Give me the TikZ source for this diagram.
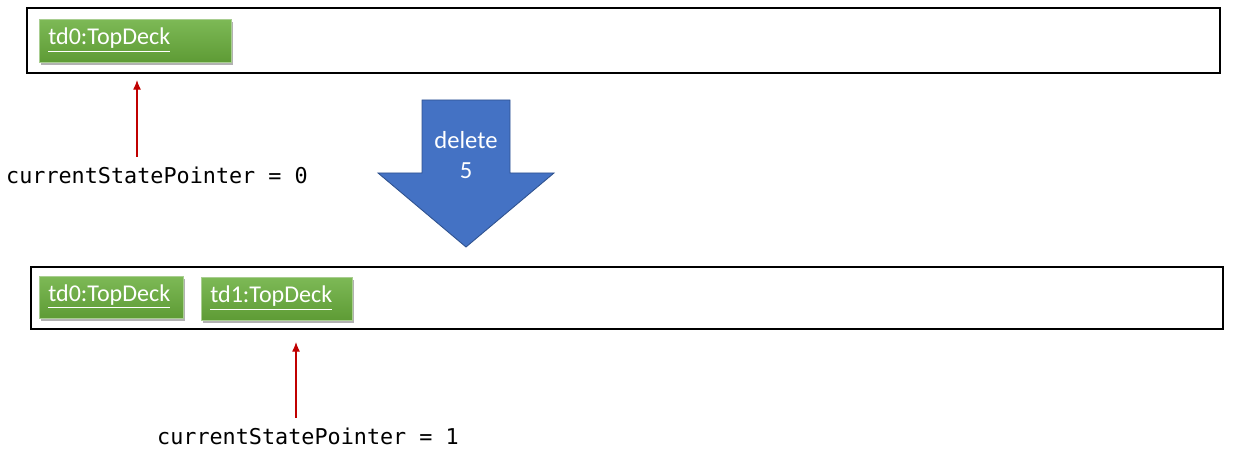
\documentclass[tikz,border=0pt]{standalone}
\usepackage{fontspec}
\setmainfont{Carlito}
\newfontfamily\codefont{DejaVu Sans Mono}
\usetikzlibrary{arrows.meta,shadows}
\definecolor{deckgreen}{HTML}{70AD47}
\definecolor{deckgreenlight}{HTML}{7DB956}
\definecolor{deckgreendark}{HTML}{5E9B35}
\definecolor{opblue}{HTML}{4472C4}
\definecolor{opborder}{HTML}{2F528F}
\definecolor{ptrred}{HTML}{C00000}
\tikzset{
  /tikz/.cd,
  history/.style={draw=black,line width=0.7pt},
  deck/.style={top color=deckgreenlight,bottom color=deckgreendark,draw=deckgreen!60,
    drop shadow={shadow xshift=1.2pt,shadow yshift=-1.4pt,opacity=.5,fill=black!60},
    anchor=north west,inner sep=0pt},
  decklabel/.style={anchor=west,inner sep=0pt,text=white,font=\fontsize{13.7}{15}\selectfont},
  pointer/.style={font=\codefont\fontsize{12.4}{14}\selectfont,inner sep=0pt},
  ptr/.style={draw=ptrred,line width=0.6pt,-{Latex[length=5.5pt,width=4.5pt]}}
}

\begin{document}
\begin{tikzpicture}[x=0.02cm,y=-0.02cm]
      \useasboundingbox (0,0) rectangle (1233,452);

      % state before
      \draw[history] (27,8) rectangle (1220,73);
      \node[deck,minimum width=192*0.02cm,minimum height=43*0.02cm] (tdA) at (39,19) {};
      \node[decklabel] (tdAtext) at ([xshift=9*0.02cm,yshift=0.5pt]tdA.west) {\underline{td0:TopDeck}};
      \coordinate (tipA) at (137,80);
      \node[pointer] (ptrA) at (157,175) {currentStatePointer = 0};
      \draw[ptr] ([yshift=5.5pt]ptrA.north -| tipA) -- (tipA);

      % the command
      \filldraw[fill=opblue,draw=opborder,line width=0.5pt]
        (422,100) -- (510,100) -- (510,173) -- (554,173) -- (466,247) -- (378,173) -- (422,173) -- cycle;
      \node[text=white,align=center,font=\fontsize{14}{17}\selectfont] (cmd) at (466,155) {delete\\5};

      % state after
      \draw[history] (31,267) rectangle (1223,329);
      \node[deck,minimum width=144*0.02cm,minimum height=42*0.02cm] (tdB) at (39,276) {};
      \node[decklabel] (tdBtext) at ([xshift=9*0.02cm,yshift=0.5pt]tdB.west) {\underline{td0:TopDeck}};
      \node[deck,minimum width=151*0.02cm,minimum height=43*0.02cm] (tdC) at (201,277) {};
      \node[decklabel] (tdCtext) at ([xshift=9*0.02cm,yshift=0.5pt]tdC.west) {\underline{td1:TopDeck}};
      \coordinate (tipB) at (296,342);
      \node[pointer] (ptrB) at (308,436) {currentStatePointer = 1};
      \draw[ptr] ([yshift=5.5pt]ptrB.north -| tipB) -- (tipB);
\end{tikzpicture}
\end{document}
